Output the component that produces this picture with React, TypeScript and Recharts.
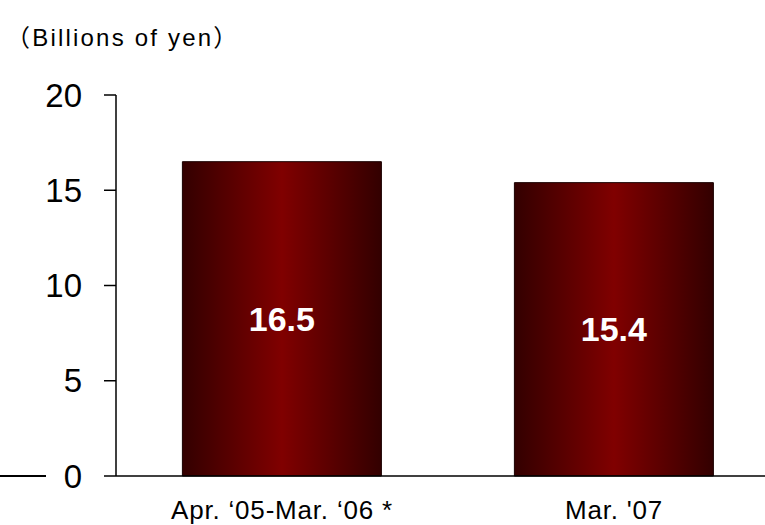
import React from 'react';
import { BarChart, Bar, XAxis, YAxis, LabelList } from 'recharts';

const categories = ['Apr. \u201805-Mar. \u201806 *', "Mar. '07"];
const values = [16.5, 15.4];
const yTicks = [0, 5, 10, 15, 20];

const chartData = categories.map((name, i) => ({ name, value: values[i] }));

const App: React.FC = () => {
  return (
    <div
      style={{
        position: 'fixed',
        left: 0,
        top: 0,
        width: 765,
        height: 525,
        overflow: 'hidden',
        fontFamily: '"Liberation Sans", Arial, sans-serif',
        background: '#ffffff',
      }}
    >
      <div
        style={{
          position: 'absolute',
          left: 6,
          top: 26,
          fontSize: 24,
          lineHeight: '24px',
          letterSpacing: 2.2,
          color: '#000',
          fontFamily: '"Liberation Sans", "Noto Sans CJK JP", sans-serif',
          whiteSpace: 'nowrap',
        }}
      >
        （Billions of yen）
      </div>
      {/* stray line on the left of the zero label */}
      <div
        style={{
          position: 'absolute',
          left: 0,
          top: 475,
          width: 46,
          height: 2,
          background: '#000',
        }}
      />
      <BarChart
        width={780}
        height={525}
        data={chartData}
        margin={{ top: 95, right: 0, left: 0, bottom: 0 }}
        barCategoryGap="20%"
        style={{ overflow: 'visible' }}
      >
        <defs>
          <linearGradient id="barGrad" x1="0" y1="0" x2="1" y2="0">
            <stop offset="0%" stopColor="#330000" />
            <stop offset="50%" stopColor="#800000" />
            <stop offset="100%" stopColor="#330000" />
          </linearGradient>
        </defs>
        <XAxis
          dataKey="name"
          height={49}
          tickLine={false}
          tickSize={0}
          tickMargin={25}
          stroke="#000"
          strokeWidth={1.5}
          tick={{ fill: '#000', fontSize: 26, letterSpacing: 0.8 }}
          interval={0}
        />
        <YAxis
          width={116}
          domain={[0, 20]}
          ticks={yTicks}
          tickSize={12}
          tickMargin={22}
          stroke="#000"
          strokeWidth={1.5}
          tick={{ fill: '#000', fontSize: 33 }}
        />
        <Bar
          dataKey="value"
          fill="url(#barGrad)"
          stroke="#1a0000"
          strokeWidth={1}
          isAnimationActive={false}
        >
          <LabelList
            dataKey="value"
            position="center"
            fill="#ffffff"
            fontSize={34}
            fontWeight="bold"
          />
        </Bar>
      </BarChart>
    </div>
  );
};

export default App;
